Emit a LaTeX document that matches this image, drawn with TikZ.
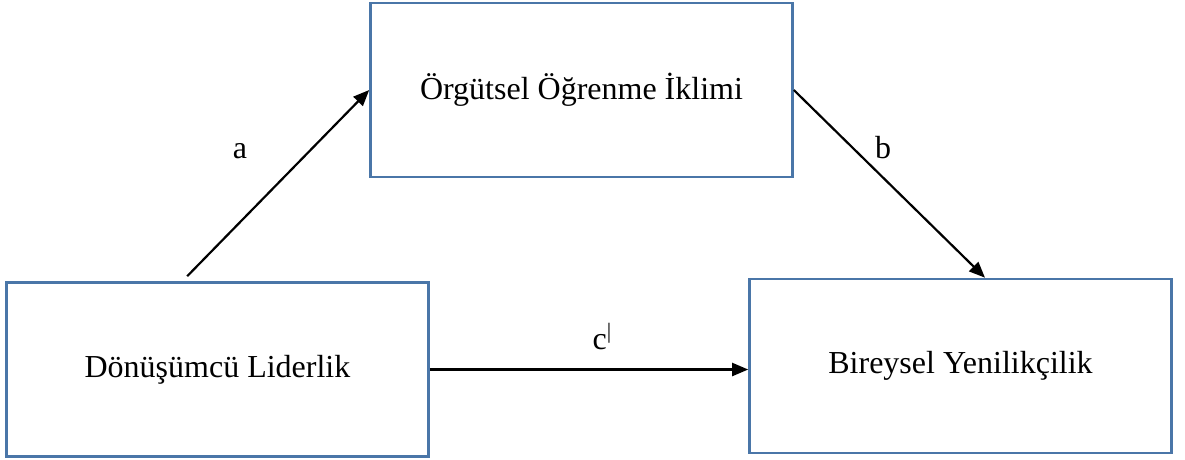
\documentclass[tikz,border=0pt]{standalone}
\usepackage{fontspec}
\setmainfont{Liberation Serif}
\usetikzlibrary{arrows.meta,calc}
\definecolor{boxblue}{HTML}{4A76A8}
\begin{document}
\begin{tikzpicture}[x=1pt,y=-1pt,
  varbox/.style={draw=boxblue,line width=2.6pt,rectangle,inner sep=0pt,
    minimum width=422pt,minimum height=174pt,font=\fontsize{32}{36}\selectfont},
  path/.style={line width=2.2pt,-{Triangle[length=16pt,width=13pt]}},
  lbl/.style={font=\fontsize{32}{36}\selectfont,inner sep=0pt}]
  \useasboundingbox (0,0) rectangle (1185,459);
  % the three variables
  \node[varbox] (ogr) at (581.5,90) {Örgütsel Öğrenme İklimi};
  \node[varbox] (dl) at (217.5,369.5) {Dönüşümcü Liderlik};
  \node[varbox] (by) at (960.5,366) {Bireysel Yenilikçilik};
  % paths between them
  \coordinate (astart) at ($(dl.north west)+(182,-5)$);
  \coordinate (bend) at ($(by.north)+(24.5,0)$);
  \draw[path] (astart) -- (ogr.west);
  \draw[path] (ogr.east) -- (bend);
  \draw[path] (dl.east) -- (dl.east -| by.west);
  % path labels
  \node[lbl] (la) at (240,151) {a};
  \node[lbl] (lb) at (883,148) {b};
  \node[lbl] (lc) at (602,337) {c\raisebox{0.75ex}{\fontsize{22}{22}\selectfont|}};
\end{tikzpicture}
\end{document}
